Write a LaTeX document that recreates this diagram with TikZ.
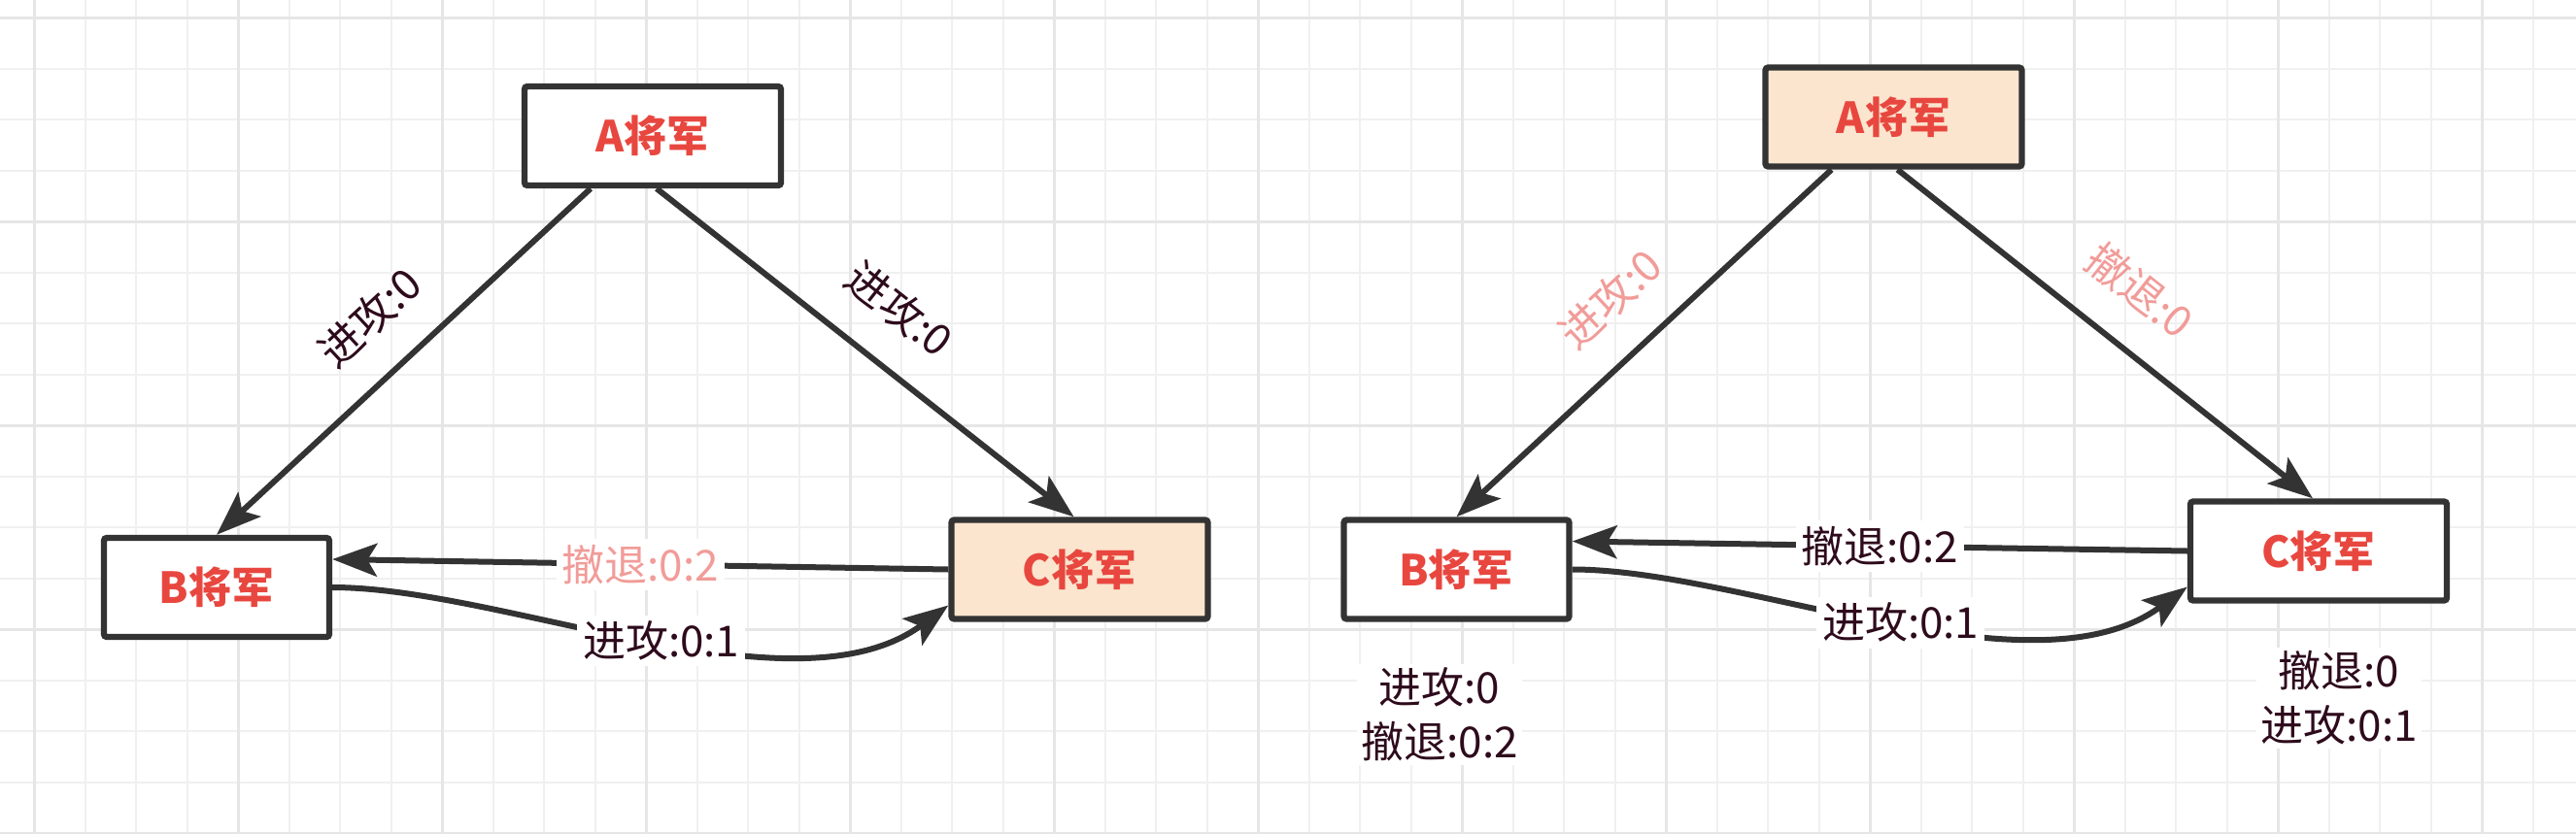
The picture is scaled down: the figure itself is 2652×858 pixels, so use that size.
\documentclass[tikz,border=0pt]{standalone}
\usepackage{fontspec}
\setmainfont{Noto Sans CJK SC}
\usetikzlibrary{arrows.meta}
\definecolor{gridminor}{HTML}{F0F0F0}
\definecolor{gridmajor}{HTML}{E6E6E6}
\definecolor{linec}{HTML}{333333}
\definecolor{nodered}{HTML}{E8473F}
\definecolor{peach}{HTML}{FBE5CF}
\definecolor{darktext}{HTML}{2E0B1C}
\definecolor{pinktext}{HTML}{F19C99}
\newcommand\myNodeFont{\fontsize{22}{26}\selectfont\bfseries}
\newcommand\myLblFont{\fontsize{22}{28}\selectfont}
\newcommand\myRotFont{\fontsize{22}{26}\selectfont}
\tikzset{
  genbox/.style={draw=linec, line width=3.2pt, rounded corners=1.5pt, minimum width=132pt,
    minimum height=51pt, font=\myNodeFont, text=nodered, fill=white, inner sep=0pt},
  narrowbox/.style={genbox, minimum width=116pt},
  hl/.style={fill=peach},
  conn/.style={draw=linec, line width=3pt, -{Stealth[length=23pt,width=17pt,inset=5pt]}},
  slabel/.style={sloped, above=17pt, inner sep=0pt, font=\myRotFont},
  mlabel/.style={fill=white, inner sep=3pt, font=\myLblFont},
  note/.style={fill=white, align=center, font=\myLblFont, text=darktext, inner sep=2pt},
  dk/.style={text=darktext},
  pk/.style={text=pinktext}
}
\begin{document}
\begin{tikzpicture}[x=0.5pt,y=-0.5pt]
\useasboundingbox (0,0) rectangle (2652,858);
\fill[white] (0,0) rectangle (2652,858);
% grid
\foreach \gx in {35,87.5,...,2640} \draw[gridminor, line width=1pt] (\gx,0) -- (\gx,858);
\foreach \gy in {18,70.5,...,860} \draw[gridminor, line width=1pt] (0,\gy) -- (2652,\gy);
\foreach \gx in {35,245,...,2640} \draw[gridmajor, line width=1.5pt] (\gx,0) -- (\gx,858);
\foreach \gy in {18,228,...,860} \draw[gridmajor, line width=1.5pt] (0,\gy) -- (2652,\gy);

% ---------- left panel ----------
\node[genbox] (A1) at (672,140) {A将军};
\node[narrowbox] (B1) at (223,605) {B将军};
\node[genbox, hl] (C1) at (1111.5,586.5) {C将军};

\draw[conn] ([xshift=-32pt]A1.south) -- (B1.north)
  node[slabel, dk, pos=0.49] (l1ab) {进攻:0};
\draw[conn] ([xshift=2pt]A1.south) -- ([xshift=-3pt]C1.north)
  node[slabel, dk, pos=0.5] (l1ac) {进攻:0};
\draw[conn] (C1.west) -- ([yshift=14.5pt]B1.east)
  node[mlabel, pk, midway] (l1cb) {撤退:0:2};
\draw[conn] (B1.east) .. controls +(177,0) and +(-157,116) .. ([yshift=-18.5pt]C1.west)
  node[mlabel, dk, pos=0.52] (l1bc) {进攻:0:1};

% ---------- right panel ----------
\node[genbox, hl] (A2) at (1949.5,120.5) {A将军};
\node[narrowbox] (B2) at (1499.5,586.5) {B将军};
\node[genbox] (C2) at (2387,567.5) {C将军};

\draw[conn] ([xshift=-32pt]A2.south) -- (B2.north)
  node[slabel, pk, pos=0.49] (l2ab) {进攻:0};
\draw[conn] ([xshift=2pt]A2.south) -- ([xshift=-3pt]C2.north)
  node[slabel, pk, pos=0.5] (l2ac) {撤退:0};
\draw[conn] (C2.west) -- ([yshift=14.5pt]B2.east)
  node[mlabel, dk, midway] (l2cb) {撤退:0:2};
\draw[conn] (B2.east) .. controls +(177,0) and +(-157,116) .. ([yshift=-18.5pt]C2.west)
  node[mlabel, dk, pos=0.52] (l2bc) {进攻:0:1};

\node[note] (nb) at (1482,736) {进攻:0\\撤退:0:2};
\node[note] (nc) at (2408,719) {撤退:0\\进攻:0:1};
\end{tikzpicture}
\end{document}
